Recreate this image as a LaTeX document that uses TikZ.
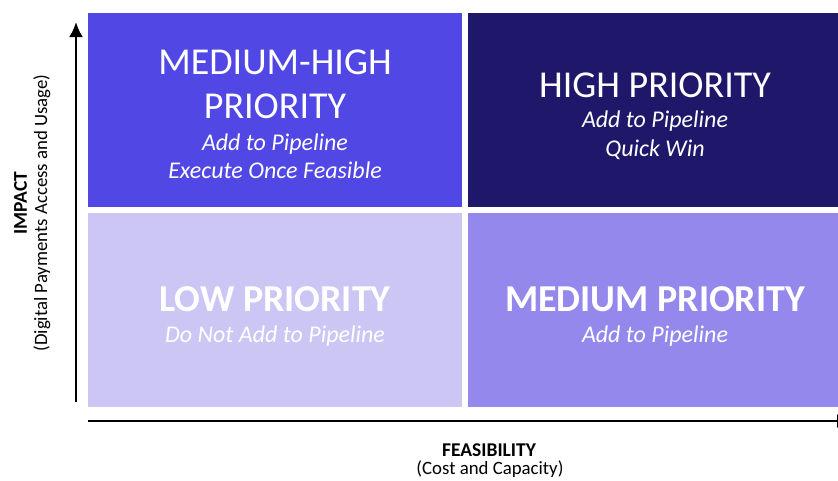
\documentclass[tikz,border=0pt]{standalone}
\usepackage{fontspec}
\setmainfont{Carlito}
\usetikzlibrary{arrows.meta}

\definecolor{medhigh}{HTML}{5147E5}
\definecolor{high}{HTML}{1F186A}
\definecolor{low}{HTML}{CCC6F5}
\definecolor{med}{HTML}{9488ED}

\tikzset{
  head/.style={anchor=base, text=white, font=\fontsize{38}{44}\selectfont},
  sub/.style={anchor=base, text=white, font=\itshape\fontsize{24}{29}\selectfont},
  axis/.style={line width=2.4pt, ->},
  axislabel/.style={anchor=base, font=\fontsize{18.8}{22}\selectfont},
}

\begin{document}
\begin{tikzpicture}[x=1pt, y=-1pt, >={Latex[length=15pt,width=14pt]}]
\useasboundingbox (0,0) rectangle (838,480);
\clip (0,0) rectangle (838,480);
% the four quadrants
\fill[medhigh] (88,13) rectangle (462,207);
\fill[high] (468,13) rectangle (838,207);
\fill[low] (88,213) rectangle (462,407);
\fill[med] (468,213) rectangle (838,407);
% quadrant texts
\node[head] (mhA) at (275,74) {MEDIUM-HIGH};
\node[head] (mhB) at (275,118) {PRIORITY};
\node[sub] (mhC) at (275,150) {Add to Pipeline};
\node[sub] (mhD) at (275,178) {Execute Once Feasible};
\node[head] (hiA) at (655,97) {HIGH PRIORITY};
\node[sub] (hiB) at (655,127) {Add to Pipeline};
\node[sub] (hiC) at (655,156) {Quick Win};
\node[head, font=\bfseries\fontsize{38}{44}\selectfont] (loA) at (275,311) {LOW PRIORITY};
\node[sub] (loB) at (275,342) {Do Not Add to Pipeline};
\node[head, font=\bfseries\fontsize{38}{44}\selectfont] (meA) at (655,311) {MEDIUM PRIORITY};
\node[sub] (meB) at (655,342) {Add to Pipeline};
% axes
\coordinate (ybot) at (76,402);
\coordinate (ytop) at (76,22);
\coordinate (xleft) at (88,421);
\coordinate (xright) at (852,421);
\draw[axis] (ybot) -- (ytop);
\draw[axis] (xleft) -- (xright);
\node[axislabel, font=\bfseries\fontsize{19.5}{22}\selectfont, rotate=90] (imp) at (27,203) {IMPACT};
\node[axislabel, rotate=90] (impsub) at (47,213) {(Digital Payments Access and Usage)};
\node[axislabel, font=\bfseries\fontsize{19.5}{22}\selectfont] (fea) at (489,456) {FEASIBILITY};
\node[axislabel] (feasub) at (490,474) {(Cost and Capacity)};
\end{tikzpicture}
\end{document}
